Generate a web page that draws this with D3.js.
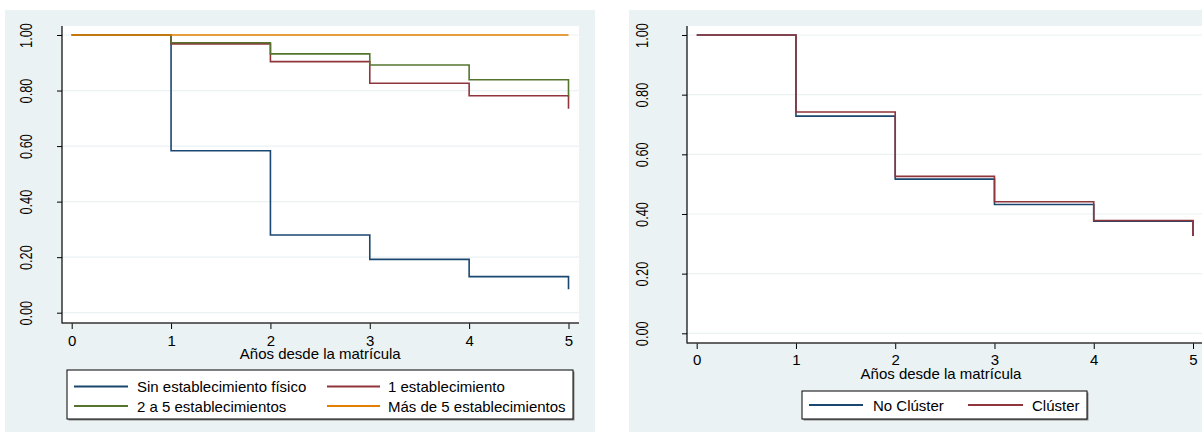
<!DOCTYPE html>
<html>
<head>
<meta charset="utf-8">
<script src="https://cdn.jsdelivr.net/npm/d3@7/dist/d3.min.js"></script>
<style>
  html, body { margin: 0; padding: 0; background: #ffffff; }
  svg { display: block; font-family: "Liberation Sans", Arial, sans-serif; }
</style>
</head>
<body>
<svg id="chart" width="1202" height="432"></svg>
<script>
// Kaplan–Meier survival estimates by year since enrolment
const years = [0, 1, 2, 3, 4, 5];
const yTicks = [0, 0.2, 0.4, 0.6, 0.8, 1.0];
const xLabel = "Años desde la matrícula";

// Panel 1: by number of physical establishments
const groupsA = ["Sin establecimiento físico", "1 establecimiento", "2 a 5 establecimientos", "Más de 5 establecimientos"];
const sinEstablecimiento = [1.000, 0.583, 0.280, 0.192, 0.130, 0.084];
const unEstablecimiento  = [1.000, 0.968, 0.904, 0.826, 0.781, 0.734];
const dosACinco          = [1.000, 0.972, 0.932, 0.892, 0.839, 0.778];
const masDeCinco         = [1.000, 1.000, 1.000, 1.000, 1.000, 1.000];

// Panel 2: cluster membership
const groupsB = ["No Clúster", "Clúster"];
const noCluster = [1.000, 0.728, 0.517, 0.432, 0.376, 0.326];
const cluster   = [1.000, 0.742, 0.526, 0.441, 0.378, 0.326];

const navy = "#1a476f", maroon = "#90353b", green = "#55752f", orange = "#e37e00";
const regionBg = "#eaf2f3";

const svg = d3.select("#chart");

function drawPanel(p) {
  const g = svg.append("g");
  // graph region
  g.append("rect").attr("x", p.bg[0]).attr("y", p.bg[1])
    .attr("width", p.bg[2] - p.bg[0]).attr("height", p.bg[3] - p.bg[1])
    .attr("fill", regionBg);
  // plot region
  g.append("rect").attr("x", p.plot[0]).attr("y", p.plot[1])
    .attr("width", p.plot[2] - p.plot[0]).attr("height", p.plot[3] - p.plot[1])
    .attr("fill", "#ffffff");

  const x = d3.scaleLinear().domain([0, 5]).range(p.xr);
  const y = d3.scaleLinear().domain([0, 1]).range(p.yr);

  // horizontal grid
  g.append("g").selectAll("line").data(yTicks).join("line")
    .attr("x1", p.plot[0]).attr("x2", p.plot[2])
    .attr("y1", d => y(d)).attr("y2", d => y(d))
    .attr("stroke", regionBg).attr("stroke-width", 1.2);

  // y axis
  const ya = g.append("g").attr("transform", `translate(${p.plot[0]},0)`)
    .call(d3.axisLeft(y).tickValues(yTicks).tickFormat(d3.format(".2f")).tickSize(5).tickPadding(0));
  ya.select(".domain").remove();
  ya.selectAll(".tick line").attr("stroke", "#000");
  ya.selectAll(".tick text")
    .attr("x", null).attr("dy", null)
    .attr("text-anchor", "middle")
    .attr("dominant-baseline", "central")
    .attr("font-size", 17)
    .attr("fill", "#000")
    .attr("transform", `translate(${p.ylabX - p.plot[0]},0) rotate(-90) scale(0.75,1)`);
  g.append("line").attr("x1", p.plot[0]).attr("x2", p.plot[0])
    .attr("y1", p.plot[1]).attr("y2", p.plot[3] + 0.5)
    .attr("stroke", "#000").attr("stroke-width", 1.2);

  // x axis
  const xa = g.append("g").attr("transform", `translate(0,${p.plot[3]})`)
    .call(d3.axisBottom(x).tickValues(years).tickFormat(d3.format("d")).tickSize(6).tickPadding(0));
  xa.select(".domain").remove();
  xa.selectAll(".tick line").attr("stroke", "#000");
  xa.selectAll(".tick text").attr("y", p.tickBase).attr("dy", null)
    .attr("font-size", 15).attr("fill", "#000");
  g.append("line").attr("x1", p.plot[0]).attr("x2", p.plot[2])
    .attr("y1", p.plot[3]).attr("y2", p.plot[3])
    .attr("stroke", "#333").attr("stroke-width", 1.4);

  g.append("text").attr("x", (p.plot[0] + Math.min(p.plot[2], p.xr[1] + 10)) / 2 + p.titleShift)
    .attr("y", p.titleBase).attr("text-anchor", "middle")
    .attr("font-size", 15).attr("fill", "#000").text(xLabel);

  // survival step curves
  const line = d3.line().x(d => x(d[0])).y(d => y(d[1])).curve(d3.curveStepAfter);
  p.series.forEach(s => {
    g.append("path").datum(years.map((t, i) => [t, s.values[i]]))
      .attr("d", line).attr("fill", "none")
      .attr("stroke", s.color).attr("stroke-width", 1.6);
  });

  // legend
  const L = p.legend;
  g.append("rect").attr("x", L.box[0] + 1.5).attr("y", L.box[1] + 1.5)
    .attr("width", L.box[2] - L.box[0]).attr("height", L.box[3] - L.box[1])
    .attr("fill", "#8a8a8a");
  g.append("rect").attr("x", L.box[0]).attr("y", L.box[1])
    .attr("width", L.box[2] - L.box[0]).attr("height", L.box[3] - L.box[1])
    .attr("fill", "#ffffff").attr("stroke", "#000").attr("stroke-width", 1);
  p.series.forEach((s, i) => {
    const it = L.items[i];
    g.append("line").attr("x1", it[0]).attr("x2", it[1]).attr("y1", it[3]).attr("y2", it[3])
      .attr("stroke", s.color).attr("stroke-width", 1.8);
    g.append("text").attr("x", it[2]).attr("y", it[3]).attr("dominant-baseline", "central")
      .attr("font-size", 15).attr("fill", "#000").text(s.name);
  });
}

drawPanel({
  bg: [5, 10, 595, 432],
  plot: [62, 26, 579, 323],
  xr: [71.7, 568.5],
  yr: [312.7, 35],
  ylabX: 26,
  tickBase: 23,
  titleBase: 359,
  titleShift: 0,
  series: [
    { name: groupsA[0], values: sinEstablecimiento, color: navy },
    { name: groupsA[1], values: unEstablecimiento, color: maroon },
    { name: groupsA[2], values: dosACinco, color: green },
    { name: groupsA[3], values: masDeCinco, color: orange }
  ],
  legend: {
    box: [67, 370, 573, 419],
    items: [
      [74, 128, 137, 386.5],
      [327, 380, 388, 386.5],
      [74, 128, 137, 406],
      [327, 380, 388, 406]
    ]
  }
});

drawPanel({
  bg: [629, 10, 1202, 432],
  plot: [687, 26, 1210, 343],
  xr: [696.7, 1193],
  yr: [333.3, 35],
  ylabX: 642,
  tickBase: 22,
  titleBase: 379,
  titleShift: -4,
  series: [
    { name: groupsB[0], values: noCluster, color: navy },
    { name: groupsB[1], values: cluster, color: maroon }
  ],
  legend: {
    box: [802, 391, 1087, 419],
    items: [
      [809, 863, 873, 405],
      [968, 1023, 1032, 405]
    ]
  }
});
</script>
</body>
</html>
